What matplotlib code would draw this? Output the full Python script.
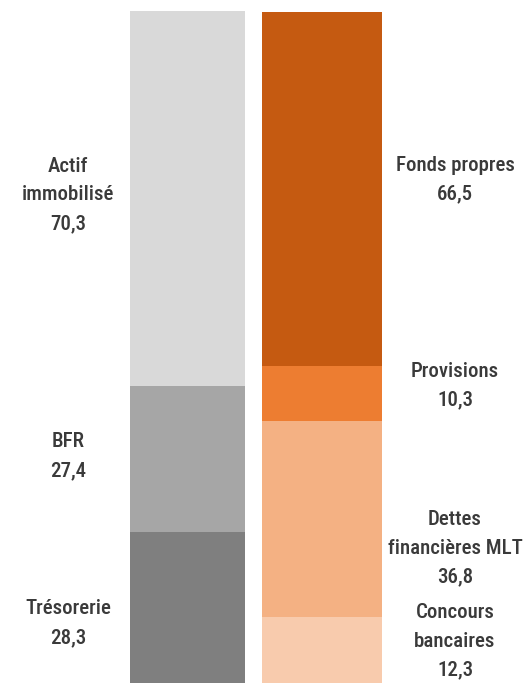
import matplotlib
matplotlib.use("Agg")
import matplotlib.pyplot as plt
from matplotlib import font_manager

# Data
left_labels = ["Trésorerie", "BFR", "Actif\nimmobilisé"]
left_values = [28.3, 27.4, 70.3]
left_colors = ["#7f7f7f", "#a6a6a6", "#d9d9d9"]

right_labels = ["Concours\nbancaires", "Dettes\nfinancières MLT", "Provisions", "Fonds propres"]
right_values = [12.3, 36.8, 10.3, 66.5]
right_colors = ["#f8cbad", "#f4b183", "#ed7d31", "#c55a11"]


def fmt(v):
    return f"{v:.1f}".replace(".", ",")


names = set(f.name for f in font_manager.fontManager.ttflist)
fam = "DejaVu Sans"
for cand in ["Roboto Condensed", "Abel", "Archivo Narrow", "Liberation Sans Narrow"]:
    if cand in names:
        fam = cand
        break

W, H = 529, 683
fig = plt.figure(figsize=(W / 100, H / 100), dpi=100)
ax = fig.add_axes([0, 0, 1, 672 / 683])
ax.set_axis_off()

unit = 134.5
ax.set_xlim(-187.5 / unit, (W - 187.5) / unit)
ax.set_ylim(0, 126.0)

px_per_unit = 672 / 126.0
left_offsets = [-15.5, 3, 3.5]      # label offsets in pixels (positive = up)
right_offsets = [9, -29, 8, 9]

style = dict(ha="center", va="center", fontsize=15, color="#3a3a3a",
             family=[fam, "DejaVu Sans"], fontweight="medium", linespacing=1.65)

bottom = 0
for lab, v, c, off in zip(left_labels, left_values, left_colors, left_offsets):
    ax.bar(0, v, bottom=bottom, width=115 / unit, color=c, linewidth=0)
    ax.text(-0.888, bottom + v / 2 + off / px_per_unit, f"{lab}\n{fmt(v)}", **style)
    bottom += v

bottom = 0
for lab, v, c, off in zip(right_labels, right_values, right_colors, right_offsets):
    ax.bar(1, v, bottom=bottom, width=120 / unit, color=c, linewidth=0)
    ax.text(1.989, bottom + v / 2 + off / px_per_unit, f"{lab}\n{fmt(v)}", **style)
    bottom += v

fig.savefig("out.png", dpi=100)
